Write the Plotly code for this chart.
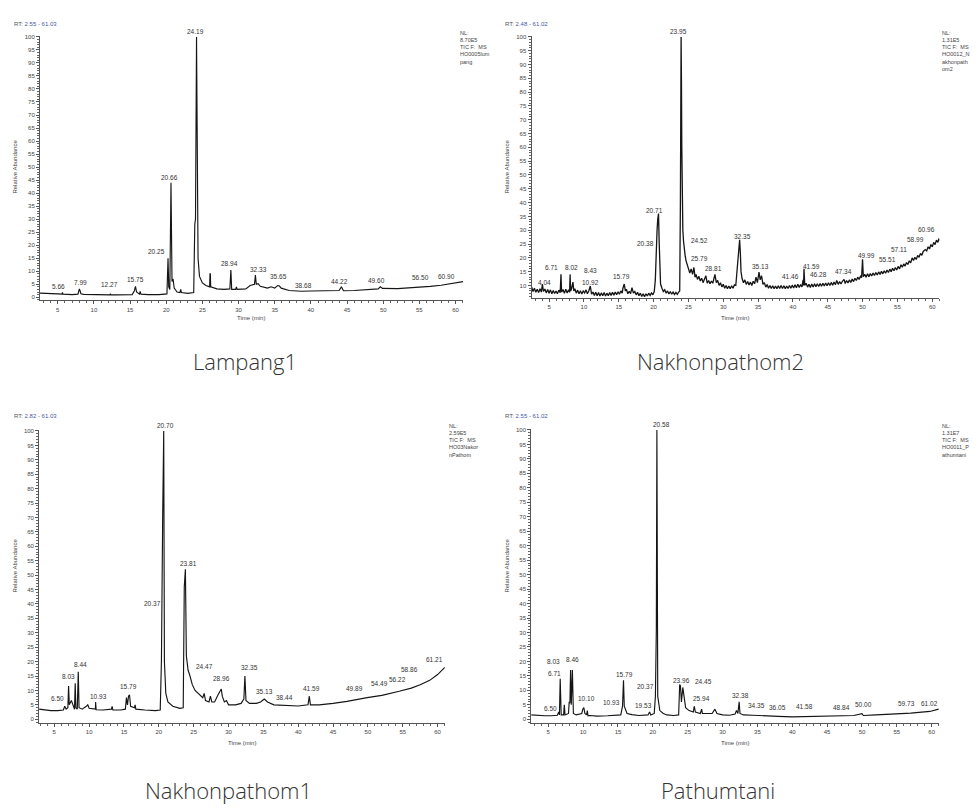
import plotly.graph_objects as go

# ---------------- data ----------------
# Lampang1 : (time min, relative abundance)
lampang1 = [(2.55,1.6),(3.0,1.5),(4.0,1.4),(5.0,1.3),(5.6,1.2),(5.66,1.9),(5.72,1.2),(6.5,1.1),(7.0,1.0),
            (7.8,1.2),(7.92,2.6),(7.99,3.2),(8.1,2.4),(8.2,1.3),(8.6,1.1),(9.5,1.0),(10.5,1.0),(11.5,0.9),
            (12.2,0.9),(12.27,1.3),(12.35,0.9),(13.0,0.9),(14.0,0.9),(15.3,1.0),(15.6,2.5),(15.75,4.2),
            (15.9,2.0),(16.3,1.2),(16.4,2.2),(16.5,1.2),(17.5,1.0),(19.0,1.0),(20.1,1.3),(20.25,15.0),
            (20.35,4.0),(20.5,3.0),(20.66,44.0),(20.8,6.0),(20.95,7.0),(21.1,3.5),(21.5,2.0),(21.9,1.8),
            (22.0,3.0),(22.1,1.8),(23.0,1.5),(23.8,1.8),(23.95,28.0),(24.05,30.0),(24.19,100.0),(24.3,16.0),
            (24.4,15.0),(24.6,8.0),(25.0,5.5),(25.5,4.5),(26.0,4.0),(26.05,9.0),(26.1,9.0),(26.15,4.0),
            (27.0,3.2),(28.0,3.0),(28.8,3.2),(28.94,10.5),(29.05,3.0),(29.6,3.0),(29.7,4.0),(29.8,3.0),
            (30.2,3.0),(31.0,3.2),(31.6,4.5),(32.0,5.0),(32.2,5.0),(32.33,8.5),(32.45,5.0),(32.7,5.2),
            (33.0,4.2),(34.0,3.5),(34.5,4.0),(35.0,3.5),(35.4,4.5),(35.65,4.3),(35.9,3.5),(37.0,2.6),
            (38.68,2.3),(40.0,2.4),(42.0,2.4),(43.9,2.6),(44.22,4.0),(44.5,2.5),(46.0,2.6),(48.0,2.8),
            (49.3,3.2),(49.6,4.0),(49.9,3.4),(52.0,3.3),(54.0,3.6),(56.5,4.2),(58.0,4.6),(60.0,5.6),
            (60.9,6.0),(61.03,6.0)]

# Nakhonpathom2
nakhonpathom2 = [(2.48,9.5),(2.7,7.8),(2.9,9.0),(3.1,7.5),(3.3,8.6),(3.5,7.4),(3.7,8.8),(3.9,7.6),(4.04,10.5),
    (4.2,7.8),(4.4,8.7),(4.6,7.3),(4.8,8.5),(5.0,7.2),(5.2,8.4),(5.4,7.0),(5.6,8.2),(5.8,7.1),(6.0,8.0),
    (6.2,7.0),(6.4,8.3),(6.6,7.4),(6.71,14.0),(6.8,7.6),(7.0,8.5),(7.2,7.2),(7.4,8.6),(7.6,7.3),(7.8,8.4),
    (7.95,7.5),(8.02,14.0),(8.1,8.0),(8.25,9.0),(8.43,11.2),(8.55,8.0),(8.7,8.8),(8.9,7.2),(9.1,8.3),
    (9.3,7.0),(9.5,8.1),(9.7,6.9),(9.9,8.0),(10.1,7.3),(10.3,8.4),(10.5,7.0),(10.7,8.0),(10.92,9.8),
    (11.1,6.8),(11.3,7.6),(11.5,6.4),(11.7,7.5),(11.9,6.3),(12.1,7.4),(12.3,6.2),(12.5,7.3),(12.7,6.3),
    (12.9,7.4),(13.1,6.2),(13.3,7.2),(13.5,6.3),(13.7,7.4),(13.9,6.4),(14.1,7.5),(14.3,6.5),(14.5,7.6),
    (14.7,6.6),(14.9,7.7),(15.1,6.8),(15.3,8.0),(15.5,7.2),(15.6,9.0),(15.79,10.5),(15.95,8.0),(16.1,8.6),
    (16.3,7.0),(16.5,7.9),(16.7,7.0),(16.9,9.2),(17.1,7.2),(17.3,7.8),(17.5,6.6),(17.7,7.5),(17.9,6.3),
    (18.1,7.2),(18.3,6.0),(18.5,7.0),(18.7,5.9),(18.9,7.0),(19.1,6.2),(19.3,7.2),(19.5,6.4),(19.7,7.3),
    (19.9,6.6),(20.1,7.8),(20.25,12.0),(20.38,24.0),(20.5,30.0),(20.6,34.0),(20.71,36.0),(20.8,26.0),
    (20.9,14.0),(21.0,10.5),(21.2,9.0),(21.4,7.8),(21.6,8.4),(21.8,7.2),(22.0,8.0),(22.2,6.9),(22.4,7.8),
    (22.6,6.8),(22.8,7.6),(23.0,6.7),(23.2,7.5),(23.4,6.8),(23.6,7.6),(23.75,8.0),(23.85,40.0),(23.9,84.0),
    (23.95,100.0),(24.0,84.0),(24.05,60.0),(24.12,36.0),(24.2,30.0),(24.3,26.0),(24.4,22.5),(24.52,21.0),
    (24.65,19.0),(24.8,17.5),(25.0,16.5),(25.2,14.5),(25.4,16.0),(25.6,14.0),(25.79,16.5),(25.95,13.0),
    (26.1,14.0),(26.3,12.2),(26.5,13.3),(26.7,11.6),(26.9,12.6),(27.1,11.0),(27.3,12.2),(27.5,13.5),
    (27.7,10.8),(27.9,11.8),(28.1,10.6),(28.3,11.6),(28.5,10.8),(28.65,12.5),(28.81,14.0),(29.0,11.0),
    (29.2,11.8),(29.4,10.0),(29.6,11.0),(29.8,9.5),(30.0,10.4),(30.2,9.0),(30.4,10.0),(30.6,8.8),(30.8,9.8),
    (31.0,8.8),(31.2,9.9),(31.4,9.0),(31.6,10.2),(31.8,10.0),(31.95,14.0),(32.1,19.0),(32.2,22.0),
    (32.35,26.5),(32.45,22.0),(32.55,15.0),(32.7,12.5),(32.9,11.0),(33.1,12.0),(33.3,10.4),(33.5,11.4),
    (33.7,10.2),(33.9,11.2),(34.1,10.0),(34.3,11.5),(34.5,10.6),(34.7,13.0),(34.9,11.0),(35.13,14.8),
    (35.3,12.0),(35.5,13.5),(35.7,10.4),(35.9,11.0),(36.1,9.4),(36.3,10.3),(36.5,9.0),(36.7,10.0),(36.9,8.9),
    (37.1,9.9),(37.3,8.8),(37.5,9.8),(37.7,8.8),(37.9,9.9),(38.1,8.9),(38.3,10.0),(38.5,8.9),(38.7,9.9),
    (38.9,8.8),(39.1,9.8),(39.3,8.9),(39.5,10.0),(39.7,9.0),(39.9,10.1),(40.1,9.1),(40.3,10.2),(40.5,9.2),
    (40.7,10.4),(40.9,9.3),(41.1,10.3),(41.3,9.5),(41.46,12.0),(41.52,10.0),(41.59,16.0),(41.7,10.0),
    (41.9,10.8),(42.1,9.4),(42.3,10.4),(42.5,9.3),(42.7,10.5),(42.9,9.4),(43.1,10.6),(43.3,9.5),(43.5,10.6),
    (43.7,9.6),(43.9,10.7),(44.1,9.7),(44.3,10.8),(44.5,9.8),(44.7,10.9),(44.9,9.9),(45.1,11.0),(45.3,10.0),
    (45.5,11.1),(45.7,10.1),(45.9,11.2),(46.1,10.3),(46.28,11.8),(46.5,10.4),(46.7,11.4),(46.9,10.5),
    (47.1,11.5),(47.34,12.2),(47.5,10.7),(47.7,11.8),(47.9,10.9),(48.1,12.0),(48.3,11.1),(48.5,12.3),
    (48.7,11.4),(48.9,12.6),(49.1,11.8),(49.3,13.0),(49.5,12.2),(49.7,13.3),(49.85,12.8),(49.99,19.5),
    (50.1,13.2),(50.3,14.0),(50.5,13.0),(50.7,14.2),(50.9,13.2),(51.1,14.3),(51.3,13.4),(51.5,14.5),
    (51.7,13.6),(51.9,14.7),(52.1,13.8),(52.3,14.9),(52.5,14.0),(52.7,15.1),(52.9,14.2),(53.1,15.3),
    (53.3,14.4),(53.5,15.6),(53.7,14.7),(53.9,15.9),(54.1,15.0),(54.3,16.2),(54.5,15.3),(54.7,16.5),
    (54.9,15.6),(55.1,16.9),(55.3,16.0),(55.51,17.5),(55.7,16.6),(55.9,17.8),(56.1,17.0),(56.3,18.3),
    (56.5,17.6),(56.7,18.9),(56.9,18.2),(57.11,20.0),(57.3,19.0),(57.5,20.2),(57.7,19.4),(57.9,20.9),
    (58.1,20.2),(58.3,21.6),(58.5,20.9),(58.7,22.3),(58.99,23.0),(59.2,22.5),(59.4,24.0),(59.6,23.2),
    (59.8,24.8),(60.0,24.0),(60.2,25.6),(60.4,24.8),(60.6,26.4),(60.8,25.6),(60.96,27.0),(61.02,26.2)]

# Nakhonpathom1
nakhonpathom1 = [(2.82,3.5),(3.5,3.2),(4.5,3.0),(5.5,3.0),(6.3,3.2),(6.5,4.5),(6.7,3.5),(6.95,4.0),(7.05,11.5),
    (7.15,5.0),(7.3,6.0),(7.45,6.5),(7.6,5.5),(7.75,4.0),(7.9,3.5),(8.0,12.5),(8.1,4.0),(8.3,3.5),(8.44,16.5),
    (8.55,4.0),(9.0,3.5),(9.6,4.5),(9.8,5.0),(10.0,3.8),(10.9,3.5),(10.93,6.0),(11.0,3.3),(12.0,3.2),
    (13.2,3.5),(13.3,4.5),(13.4,3.2),(14.5,3.2),(15.2,3.5),(15.35,7.5),(15.5,5.0),(15.65,8.0),(15.79,8.5),
    (15.95,4.5),(16.5,4.0),(16.6,5.0),(16.7,3.5),(18.0,3.2),(19.5,3.0),(20.2,3.2),(20.37,20.0),(20.55,70.0),
    (20.70,100.0),(20.8,20.0),(21.0,9.0),(21.3,6.0),(22.0,4.5),(23.0,3.8),(23.5,4.0),(23.65,46.0),
    (23.81,52.0),(23.95,22.0),(24.2,17.0),(24.47,15.0),(24.8,12.0),(25.2,10.0),(25.8,8.5),(26.3,7.5),
    (26.5,9.0),(26.7,6.5),(27.2,6.0),(27.4,8.0),(27.6,6.0),(28.0,6.0),(28.5,8.5),(28.7,9.5),(28.96,10.5),
    (29.1,8.0),(29.4,6.0),(29.7,6.5),(30.0,5.0),(31.0,5.0),(31.8,5.5),(32.2,7.0),(32.35,15.0),(32.5,6.5),
    (33.0,5.5),(34.0,5.5),(34.6,6.0),(35.13,7.0),(35.6,6.0),(36.5,5.0),(38.44,4.8),(40.0,4.6),(41.4,5.0),
    (41.59,8.0),(41.75,5.0),(43.0,5.0),(45.0,5.5),(47.0,6.2),(49.89,7.5),(52.0,8.3),(54.49,9.7),
    (56.22,10.8),(57.5,12.0),(58.86,13.5),(60.0,15.5),(61.03,18.0)]

# Pathumtani
pathumtani = [(2.55,1.5),(3.5,1.3),(4.5,1.2),(5.5,1.2),(6.3,1.4),(6.5,2.5),(6.6,1.5),(6.71,14.0),(6.85,1.5),
    (7.2,1.5),(7.3,5.0),(7.4,1.5),(7.9,2.0),(8.0,6.0),(8.1,5.5),(8.2,17.0),(8.3,5.0),(8.46,17.0),(8.6,2.0),
    (9.0,1.5),(9.8,2.0),(9.95,3.5),(10.1,4.0),(10.25,2.0),(10.5,1.5),(10.6,3.0),(10.7,1.2),(10.93,1.3),
    (12.0,1.1),(13.5,1.2),(15.4,1.5),(15.65,4.5),(15.79,13.5),(15.9,4.5),(16.3,2.0),(17.0,1.6),(18.0,1.3),
    (19.3,1.5),(19.53,2.5),(19.7,1.5),(20.2,2.0),(20.37,8.0),(20.5,31.0),(20.58,100.0),(20.7,8.0),
    (21.0,3.0),(21.5,2.0),(22.0,1.5),(23.0,1.3),(23.7,1.5),(23.85,12.0),(23.96,11.5),(24.1,6.0),(24.3,11.0),
    (24.45,8.0),(24.7,4.0),(25.2,3.0),(25.8,2.5),(25.94,4.5),(26.1,2.5),(26.8,2.0),(27.0,3.5),(27.1,2.0),
    (28.5,2.0),(28.9,3.5),(29.2,2.0),(30.0,1.5),(31.0,1.4),(31.8,1.8),(32.0,3.0),(32.2,2.0),(32.38,6.0),
    (32.5,2.0),(33.0,1.5),(34.35,1.4),(36.05,1.1),(38.0,1.0),(40.0,0.8),(41.58,0.9),(44.0,1.0),(46.0,1.1),
    (48.84,1.3),(50.0,1.9),(50.2,1.3),(52.0,1.5),(55.0,1.8),(57.0,2.1),(59.73,2.7),(61.02,3.5)]

# peak labels: (text, time position of label, abundance position of label)
labels1 = [("5.66",5.1,4.2),("7.99",8.1,5.5),("12.27",12.2,4.9),("15.75",15.7,6.8),("20.25",18.7,17.6),
           ("20.66",20.5,46),("24.19",24.0,102),("28.94",28.8,12.8),("32.33",32.7,10.6),("35.65",35.5,7.8),
           ("38.68",39.0,4.5),("44.22",43.9,6.1),("49.60",49.1,6.5),("56.50",55.2,7.4),("60.90",58.8,7.8)]
labels2 = [("4.04",4.4,10.9),("6.71",5.4,16.6),("8.02",8.15,16.6),("8.43",10.9,15.4),("10.92",10.9,10.9),
           ("15.79",15.4,13.1),("20.38",18.8,25.1),("20.71",20.2,37.1),("23.95",23.6,102),("24.52",26.6,26.2),
           ("25.79",26.6,19.7),("28.81",28.6,16.3),("32.35",32.7,27.7),("35.13",35.3,16.9),("41.46",39.6,13.3),
           ("41.59",42.7,16.9),("46.28",43.7,13.9),("47.34",47.3,14.9),("49.99",50.5,20.9),("55.51",53.6,19.3),
           ("57.11",55.2,22.9),("58.99",57.6,26.5),("60.96",59.2,30.4)]
labels3 = [("6.50",5.4,7.2),("8.03",7.0,15),("8.44",8.7,19),("10.93",11.3,8.0),("15.79",15.6,11.3),
           ("20.37",19.1,40.3),("20.70",20.9,103),("23.81",24.2,54),("24.47",26.5,18.2),("28.96",29.0,14.2),
           ("32.35",33.0,18),("35.13",35.2,9.5),("38.44",38.1,7.6),("41.59",41.9,10.7),("49.89",48.1,10.7),
           ("54.49",51.7,12.4),("56.22",54.3,13.8),("58.86",55.9,17.3),("61.21",59.6,20.6)]
labels4 = [("6.50",5.35,3.7),("8.03",5.7,19.9),("6.71",5.85,15.9),("8.46",8.5,20.5),("10.10",10.5,7.2),
           ("10.93",14.1,5.8),("15.79",16.0,15.6),("19.53",18.7,4.8),("20.37",18.9,11.2),("20.58",21.2,102),
           ("23.96",24.1,13.5),("24.45",27.2,13.0),("25.94",27.0,7.2),("32.38",32.6,8.3),("34.35",34.9,4.6),
           ("36.05",37.9,4.0),("41.58",41.8,4.3),("48.84",47.1,4.0),("50.00",50.2,5.2),("59.73",56.4,5.4),
           ("61.02",59.7,5.4)]

titles = ["Lampang1", "Nakhonpathom2", "Nakhonpathom1", "Pathumtani"]
rt_ranges = [(2.55, 61.03), (2.48, 61.02), (2.82, 61.03), (2.55, 61.02)]
nl_texts = ["NL:<br>8.70E5<br>TIC F:  MS<br>HO0005lum<br>pang",
            "NL:<br>1.31E5<br>TIC F:  MS<br>HO0012_N<br>akhonpath<br>om2",
            "NL:<br>2.59E5<br>TIC F:  MS<br>HO03Nakor<br>nPathom",
            "NL:<br>1.31E7<br>TIC F:  MS<br>HO0011_P<br>athumtani"]
x_ticks = [5, 10, 15, 20, 25, 30, 35, 40, 45, 50, 55, 60]
y_ticks_full = [0, 5, 10, 15, 20, 25, 30, 35, 40, 45, 50, 55, 60, 65, 70, 75, 80, 85, 90, 95, 100]
y_ticks_offset = [10, 15, 20, 25, 30, 35, 40, 45, 50, 55, 60, 65, 70, 75, 80, 85, 90, 95, 100]

# ---------------- layout geometry (pixels) ----------------
W, H = 980, 809
def px(x): return x / W
def py(y): return 1 - y / H

panels = [
    dict(box=(40, 463, 33.7, 299.1), yr=(-1.2, 100.5), yt=y_ticks_full, data=lampang1, lab=labels1,
         rt=(12, 22), nl=(458, 26), ytitle=(15, 165), xtitle=(251, 317), name=(245, 360)),
    dict(box=(531.5, 939.4, 33.6, 296.6), yr=(5.5, 100.5), yt=y_ticks_offset, data=nakhonpathom2, lab=labels2,
         rt=(503, 22), nl=(940, 26), ytitle=(507, 165), xtitle=(735, 317), name=(720, 360)),
    dict(box=(39.1, 444.8, 428.6, 722.8), yr=(-1.3, 100.5), yt=y_ticks_full, data=nakhonpathom1, lab=labels3,
         rt=(12, 415), nl=(447, 420), ytitle=(15, 565), xtitle=(242, 743), name=(228, 790)),
    dict(box=(531.2, 938.8, 427.6, 722.8), yr=(-1.3, 100.5), yt=y_ticks_full, data=pathumtani, lab=labels4,
         rt=(503, 415), nl=(940, 420), ytitle=(507, 565), xtitle=(735, 743), name=(718, 790)),
]

small = "Liberation Sans"
fig = go.Figure()
layout = dict(width=W, height=H, margin=dict(l=0, r=0, t=0, b=0), paper_bgcolor="white",
              plot_bgcolor="white", showlegend=False)
annotations = []

for i, p in enumerate(panels):
    n = "" if i == 0 else str(i + 1)
    xs = [d[0] for d in p["data"]]
    ys = [d[1] for d in p["data"]]
    fig.add_trace(go.Scatter(x=xs, y=ys, mode="lines", xaxis="x" + n, yaxis="y" + n,
                             line=dict(color="#151515", width=1.3 if i == 1 else 1.15),
                             hoverinfo="skip"))
    l, r, t, b = p["box"]
    layout["xaxis" + n] = dict(domain=[px(l), px(r)], range=list(rt_ranges[i]), anchor="y" + n,
        tickvals=x_ticks, ticks="outside", ticklen=3, tickwidth=1, tickcolor="#555",
        showline=True, linecolor="#555", linewidth=1, showgrid=False, zeroline=False,
        tickfont=dict(family=small, size=6, color="#444"),
        minor=dict(dtick=1, tick0=0, ticks="outside", ticklen=2, tickcolor="#666", showgrid=False))
    layout["yaxis" + n] = dict(domain=[py(b), py(t)], range=list(p["yr"]), anchor="x" + n,
        tickvals=p["yt"], ticks="outside", ticklen=3, tickwidth=1, tickcolor="#555",
        showline=True, linecolor="#555", linewidth=1, showgrid=False, zeroline=False,
        tickfont=dict(family=small, size=6, color="#444"),
        minor=dict(dtick=1, tick0=0, ticks="outside", ticklen=2, tickcolor="#666", showgrid=False))
    # peak labels (labels above the axis top are pinned to 100 and shifted up)
    for txt, lx, ly in p["lab"]:
        if ly > 100:
            annotations.append(dict(x=lx, y=100, xref="x" + n, yref="y" + n, text=txt, showarrow=False,
                                    xanchor="center", yanchor="bottom", yshift=0,
                                    font=dict(family=small, size=6.5, color="#333")))
        else:
            annotations.append(dict(x=lx, y=ly, xref="x" + n, yref="y" + n, text=txt, showarrow=False,
                                    xanchor="center", yanchor="middle",
                                    font=dict(family=small, size=6.5, color="#333")))
    a, bb = rt_ranges[i]
    annotations.append(dict(x=px(p["rt"][0]), y=py(p["rt"][1]), xref="paper", yref="paper",
        text='RT: <span style="color:#4b57a8">%.2f - %.2f</span>' % (a, bb), showarrow=False,
        xanchor="left", yanchor="middle", font=dict(family=small, size=6, color="#555")))
    annotations.append(dict(x=px(p["nl"][0]), y=py(p["nl"][1]), xref="paper", yref="paper",
        text=nl_texts[i], showarrow=False, xanchor="left", yanchor="top", align="left",
        font=dict(family=small, size=5.5, color="#444")))
    annotations.append(dict(x=px(p["ytitle"][0]), y=py(p["ytitle"][1]), xref="paper", yref="paper",
        text="Relative Abundance", textangle=-90, showarrow=False, xanchor="center", yanchor="middle",
        font=dict(family=small, size=6, color="#444")))
    annotations.append(dict(x=px(p["xtitle"][0]), y=py(p["xtitle"][1]), xref="paper", yref="paper",
        text="Time (min)", showarrow=False, xanchor="center", yanchor="middle",
        font=dict(family=small, size=6, color="#444")))
    annotations.append(dict(x=px(p["name"][0]), y=py(p["name"][1]), xref="paper", yref="paper",
        text=titles[i], showarrow=False, xanchor="center", yanchor="middle",
        font=dict(family="Open Sans", size=22, color="#333", weight=300)))

layout["annotations"] = annotations
fig.update_layout(**layout)
fig.write_html("out.html")
